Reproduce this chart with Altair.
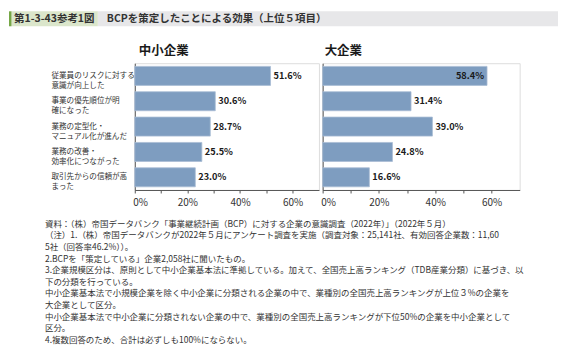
import altair as alt
import pandas as pd

# ---------------- data ----------------
categories = [
    "従業員のリスクに対する\n意識が向上した",
    "事業の優先順位が明\n確になった",
    "業務の定型化・\nマニュアル化が進んだ",
    "業務の改善・\n効率化につながった",
    "取引先からの信頼が高\nまった",
]
sme_values = [51.6, 30.6, 28.7, 25.5, 23.0]
large_values = [58.4, 31.4, 39.0, 24.8, 16.6]
panel_titles = ["中小企業", "大企業"]
x_ticks = [0, 10, 20, 30, 40, 50, 60]
fig_label = "第1-3-43参考1図"
fig_title = "BCPを策定したことによる効果（上位５項目）"
notes = [
    "資料：（株）帝国データバンク「事業継続計画（BCP）に対する企業の意識調査（2022年）」（2022年５月）",
    "（注）1.（株）帝国データバンクが2022年５月にアンケート調査を実施（調査対象：25,141社、有効回答企業数：11,60",
    "5社（回答率46.2%））。",
    "2.BCPを「策定している」企業2,058社に聞いたもの。",
    "3.企業規模区分は、原則として中小企業基本法に準拠している。加えて、全国売上高ランキング（TDB産業分類）に基づき、以",
    "下の分類を行っている。",
    "中小企業基本法で小規模企業を除く中小企業に分類される企業の中で、業種別の全国売上高ランキングが上位３%の企業を",
    "大企業として区分。",
    "中小企業基本法で中小企業に分類されない企業の中で、業種別の全国売上高ランキングが下位50%の企業を中小企業として",
    "区分。",
    "4.複数回答のため、合計は必ずしも100%にならない。",
]

FONT = "Noto Sans CJK JP"
BAR = "#7e9dc0"
TXT = "#333333"
AXIS = "#555555"

OX, OY = 134, 62  # left panel origin on the page (for annotation offsets)


def one():
    return alt.Chart(alt.Data(values=[{}]))


def panel(values, title, width, show_labels):
    df = pd.DataFrame({
        "cat": categories,
        "value": values,
        "label": [f"{v:.1f}%" for v in values],
    })
    y = alt.Y(
        "cat:N", sort=categories,
        scale=alt.Scale(domain=categories, paddingInner=0.25, paddingOuter=0.125),
        axis=alt.Axis(
            title=None, ticks=False, tickSize=0, labels=show_labels,
            labelExpr="split(datum.label, '\\n')", labelAlign="left",
            labelBaseline="middle", labelPadding=84, labelFontSize=7.6,
            labelLineHeight=10, labelLimit=300, labelColor=TXT, labelFont=FONT,
            domainColor=AXIS, domainWidth=1,
        ),
    )
    x = alt.X(
        "value:Q", scale=alt.Scale(domain=[0, 70], nice=False, zero=True),
        axis=alt.Axis(
            title=None, values=x_ticks,
            labelExpr="datum.value % 20 == 0 ? datum.value + '%' : ''",
            grid=False, tickSize=3, tickColor=AXIS, domainColor=AXIS,
            labelPadding=5, labelFontSize=10, labelColor=TXT, labelFont=FONT,
            labelFlush=1, labelFlushOffset=2, labelOverlap=False,
        ),
    )
    base = alt.Chart(df)
    bars = base.mark_bar(color=BAR, stroke="#a9bdd4", strokeWidth=0.8).encode(x=x, y=y)
    outside = base.transform_filter("datum.value < 55").mark_text(
        align="left", baseline="middle", dx=3, font=FONT, fontSize=9.2,
        fontWeight="bold", color="#1a1a1a",
    ).encode(x=x, y=y, text="label:N")
    inside = base.transform_filter("datum.value >= 55").mark_text(
        align="right", baseline="middle", dx=-3, font=FONT, fontSize=9.2,
        fontWeight="bold", color="#1a1a1a",
    ).encode(x=x, y=y, text="label:N")
    ttl = one().mark_text(
        align="left", baseline="middle", font=FONT, fontSize=12.5,
        fontWeight="bold", color="#1a1a1a",
    ).encode(x=alt.value(4 if show_labels else 2), y=alt.value(-12), text=alt.value(title))
    return [bars, outside, inside, ttl], width


# header + notes (attached to left panel, positioned relative to its origin)
hdr_gray = one().mark_rect(color="#e7e7e9").encode(
    x=alt.value(97 - OX), x2=alt.value(558 - OX), y=alt.value(10 - OY), y2=alt.value(25 - OY))
hdr_green = one().mark_rect(color="#dbe6cb").encode(
    x=alt.value(10.5 - OX), x2=alt.value(97 - OX), y=alt.value(10 - OY), y2=alt.value(25 - OY))
hdr_stripe = one().mark_rect(color="#76a746").encode(
    x=alt.value(8 - OX), x2=alt.value(10.5 - OX), y=alt.value(10 - OY), y2=alt.value(25 - OY))
hdr_label = one().mark_text(
    align="left", baseline="middle", font=FONT, fontSize=10.5, fontWeight="bold", color=TXT,
).encode(x=alt.value(13 - OX), y=alt.value(17.5 - OY), text=alt.value(fig_label))
hdr_title = one().mark_text(
    align="left", baseline="middle", font=FONT, fontSize=10.5, fontWeight="bold", color=TXT,
).encode(x=alt.value(106 - OX), y=alt.value(17.5 - OY), text=alt.value(fig_title))
note_text = one().mark_text(
    align="left", baseline="top", font=FONT, fontSize=8.5, lineHeight=11.6, color=TXT,
).encode(x=alt.value(44 - OX), y=alt.value(219 - OY), text=alt.value(notes))

left_layers, lw = panel(sme_values, panel_titles[0], 184.5, True)
right_layers, rw = panel(large_values, panel_titles[1], 197.4, False)

left = alt.layer(
    hdr_gray, hdr_green, hdr_stripe, hdr_label, hdr_title, note_text, *left_layers
).properties(width=lw, height=127)
right = alt.layer(*right_layers).properties(width=rw, height=127)

chart = alt.hconcat(left, right, spacing=3.2, bounds="flush").properties(
    padding={"left": 0, "top": 2, "right": 0, "bottom": 4},
).configure_view(stroke=None).configure(font=FONT)

chart.save("out.html", embed_options={"renderer": "svg", "actions": False})
